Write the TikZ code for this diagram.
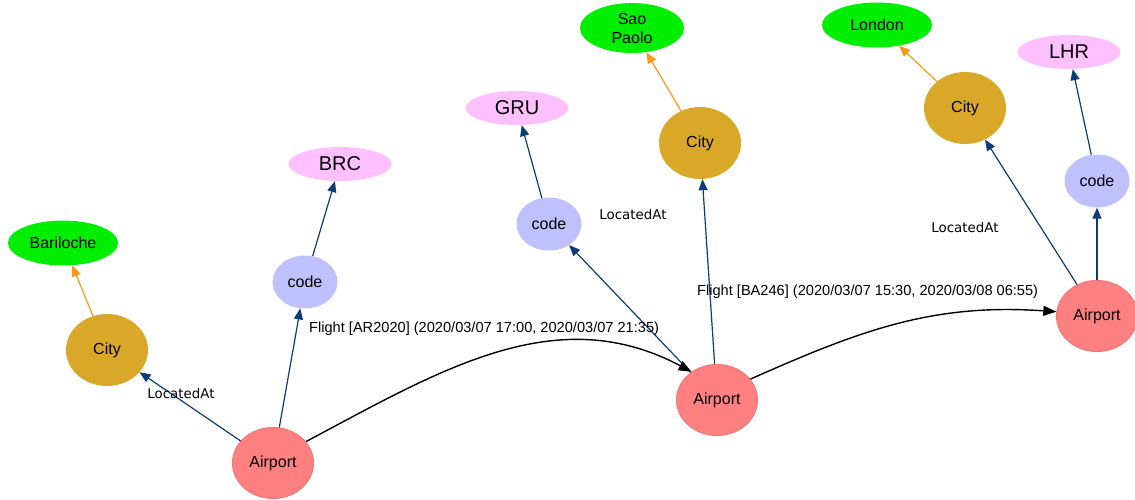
\documentclass[tikz,border=0pt]{standalone}
\usepackage{fontspec}
\setmainfont{Liberation Sans}
\newfontfamily\lafont{DejaVu Sans}
\usetikzlibrary{shapes.geometric,arrows.meta}
\definecolor{edgeblue}{RGB}{12,60,120}
\definecolor{edgeorange}{RGB}{255,150,20}
\definecolor{towngreen}{RGB}{0,238,0}
\definecolor{citygold}{RGB}{218,168,40}
\definecolor{airred}{RGB}{255,128,128}
\definecolor{airborder}{RGB}{238,118,118}
\definecolor{codeblue}{RGB}{192,192,255}
\definecolor{iatapink}{RGB}{255,192,255}
\tikzset{
  base/.style={ellipse, inner sep=0pt, text=black, font=\fontsize{16}{19}\selectfont},
  townnode/.style={base, fill=towngreen, minimum width=110pt, minimum height=45pt, align=center},
  citynode/.style={base, fill=citygold, minimum width=82pt, minimum height=72pt},
  airnode/.style={base, fill=airred, draw=airborder, line width=1pt, minimum width=81pt, minimum height=71pt},
  codenode/.style={base, fill=codeblue, minimum width=65pt, minimum height=53pt},
  iatanode/.style={base, fill=iatapink, minimum width=103pt, minimum height=34pt, font=\fontsize{20}{24}\selectfont},
  blueedge/.style={draw=edgeblue, line width=1.2pt, -{Triangle[length=11pt,width=9pt]}},
  orangeedge/.style={draw=edgeorange, line width=1.2pt, -{Triangle[length=11pt,width=9pt]}},
  flightedge/.style={draw=black, line width=1.4pt, -{Triangle[length=13pt,width=10pt]}},
  flightlbl/.style={font=\fontsize{14.6}{17}\selectfont, inner sep=0pt},
  locatedlbl/.style={font=\lafont\fontsize{13.4}{16}\selectfont, inner sep=0pt}
}
\begin{document}
\begin{tikzpicture}[x=1pt,y=-1pt]
\useasboundingbox (0,0) rectangle (1135,500);
% nodes
\node[townnode] (bar) at (63,243) {Bariloche};
\node[citynode] (c1) at (107,350) {City};
\node[airnode] (a1) at (273,463) {Airport};
\node[codenode] (k1) at (305,282) {code};
\node[iatanode] (brc) at (340,164) {BRC};
\node[codenode] (k2) at (549,224) {code};
\node[iatanode] (gru) at (517,108) {GRU};
\node[citynode] (c2) at (700,143) {City};
\node[townnode, minimum width=104pt, minimum height=50pt] (sao) at (632,28) {Sao\\Paolo};
\node[airnode] (a2) at (717,400) {Airport};
\node[citynode] (c3) at (965,108) {City};
\node[townnode] (lon) at (877,25) {London};
\node[codenode] (k3) at (1097,181) {code};
\node[iatanode] (lhr) at (1069,52) {LHR};
\node[airnode] (a3) at (1097,316) {Airport};
% edges
\draw[orangeedge] (c1) -- (bar);
\draw[blueedge] (a1) -- (c1);
\draw[blueedge] (a1) -- (k1);
\draw[blueedge] (k1) -- (brc);
\draw[blueedge] (a2) -- (k2);
\draw[blueedge] (k2) -- (gru);
\draw[blueedge] (a2) -- (c2);
\draw[orangeedge] (c2) -- (sao);
\draw[blueedge] (a3) -- (c3);
\draw[orangeedge] (c3) -- (lon);
\draw[blueedge] (a3) -- (k3);
\draw[blueedge] (k3) -- (lhr);
\draw[flightedge] (a1.33) to[out=28, in=152] (a2.132);
\draw[flightedge] (a2.32) to[out=24, in=176] (a3.174);
% labels
\node[locatedlbl] (l1) at (181,394) {LocatedAt};
\node[locatedlbl] (l2) at (633,215) {LocatedAt};
\node[locatedlbl] (l3) at (965,228) {LocatedAt};
\node[flightlbl, anchor=west] (f1) at (309,329) {Flight [AR2020] (2020/03/07 17:00, 2020/03/07 21:35)};
\node[flightlbl, anchor=west] (f2) at (697,292) {Flight [BA246] (2020/03/07 15:30, 2020/03/08 06:55)};
\end{tikzpicture}
\end{document}
